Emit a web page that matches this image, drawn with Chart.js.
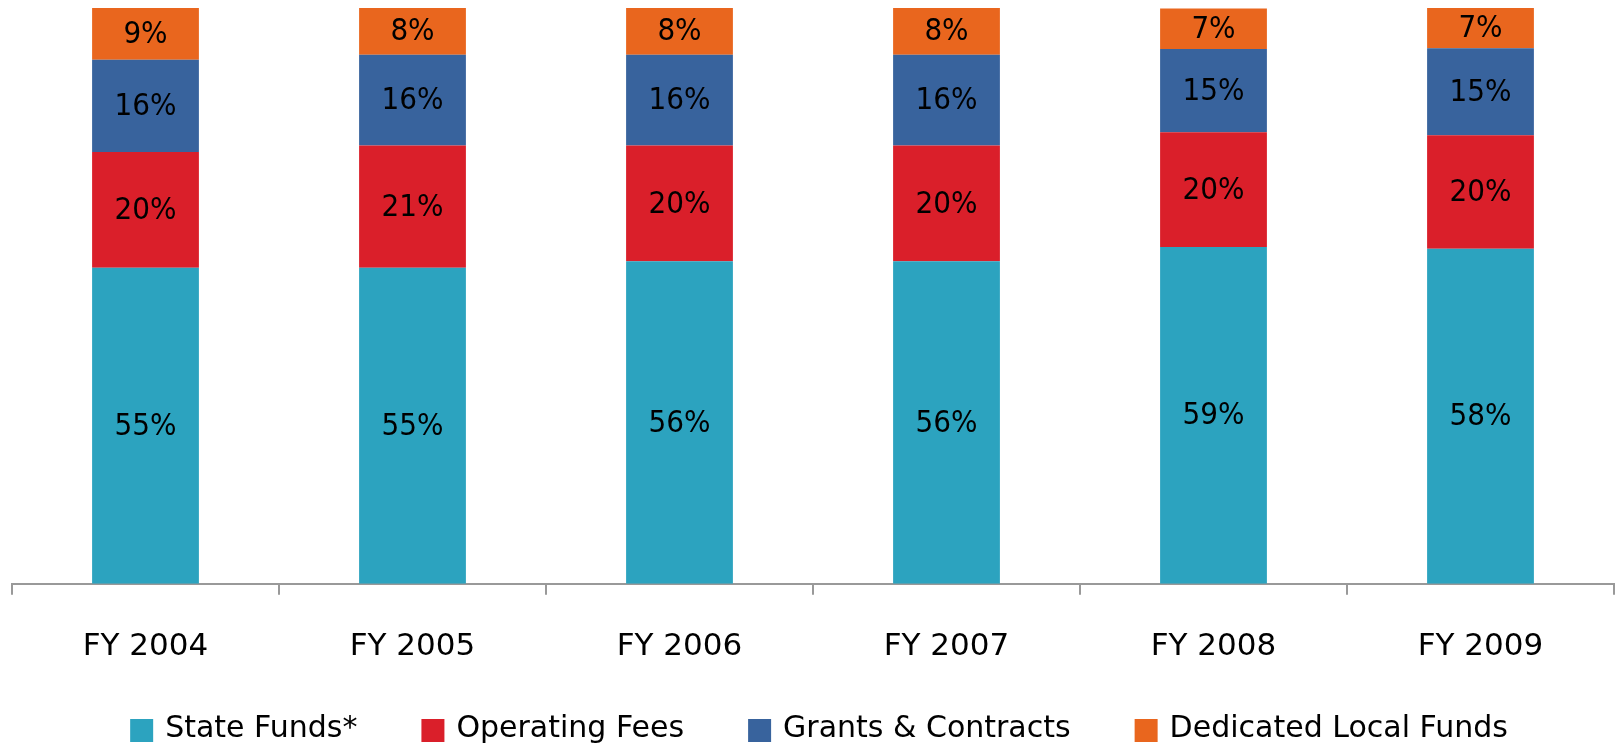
<!DOCTYPE html>
<html>
<head>
<meta charset="utf-8">
<script src="https://cdn.jsdelivr.net/npm/chart.js@4"></script>
<style>
  html, body { margin: 0; padding: 0; background: #fff; }
  #wrap { width: 1617px; height: 744px; }
</style>
</head>
<body>
<div id="wrap"><canvas id="chart"></canvas></div>
<script>
// data (share of total, %)
var years = ['FY 2004', 'FY 2005', 'FY 2006', 'FY 2007', 'FY 2008', 'FY 2009'];
var stateFunds = [54.9, 54.9, 56.0, 56.0, 58.5, 58.2];
var operatingFees = [20.1, 21.2, 20.1, 20.1, 19.9, 19.7];
var grantsContracts = [16.0, 15.8, 15.8, 15.8, 14.5, 15.1];
var localFunds = [9.0, 8.1, 8.1, 8.1, 7.0, 7.0];

var labelFont = '31px "DejaVu Sans Condensed", "DejaVu Sans", sans-serif';
var mainFont = '"DejaVu Sans", sans-serif';

// draws the % value in the middle of each bar piece
var barLabels = {
  id: 'barLabels',
  afterDatasetsDraw: function (chart) {
    var ctx = chart.ctx;
    ctx.save();
    ctx.fillStyle = '#000';
    ctx.font = labelFont;
    ctx.textAlign = 'center';
    ctx.textBaseline = 'middle';
    chart.data.datasets.forEach(function (ds, i) {
      chart.getDatasetMeta(i).data.forEach(function (bar, j) {
        var mid = (bar.y + bar.base) / 2;
        ctx.fillText(Math.round(ds.data[j]) + '%', bar.x, mid + 1);
      });
    });
    ctx.restore();
  }
};

// legend along the bottom, squares + text, wide gaps
var bottomLegend = {
  id: 'bottomLegend',
  afterDraw: function (chart) {
    var ctx = chart.ctx;
    var box = 23, gapText = 12, gapItem = 64;
    ctx.save();
    ctx.font = '30px ' + mainFont;
    var sets = chart.data.datasets;
    var widths = sets.map(function (ds) { return ctx.measureText(ds.label).width; });
    var total = 0;
    widths.forEach(function (w) { total += box + gapText + w; });
    total += gapItem * (sets.length - 1);
    var x = (chart.chartArea.left + chart.chartArea.right) / 2 - total / 2 + 6;
    var y = 719;
    ctx.textBaseline = 'alphabetic';
    sets.forEach(function (ds, i) {
      ctx.fillStyle = ds.backgroundColor;
      ctx.fillRect(x, y, box, box);
      ctx.fillStyle = '#000';
      ctx.fillText(ds.label, x + box + gapText, 737);
      x += box + gapText + widths[i] + gapItem;
    });
    ctx.restore();
  }
};

var ctx = document.getElementById('chart').getContext('2d');
var myChart = new Chart(ctx, {
  type: 'bar',
  data: {
    labels: years,
    datasets: [
      { label: 'State Funds*', data: stateFunds, backgroundColor: '#2ca3bf' },
      { label: 'Operating Fees', data: operatingFees, backgroundColor: '#da1f2a' },
      { label: 'Grants & Contracts', data: grantsContracts, backgroundColor: '#38639d' },
      { label: 'Dedicated Local Funds', data: localFunds, backgroundColor: '#e9661e' }
    ]
  },
  options: {
    responsive: true,
    maintainAspectRatio: false,
    animation: false,
    layout: { padding: { left: 12, right: 3, top: 8, bottom: 44 } },
    datasets: { bar: { barPercentage: 0.4, categoryPercentage: 1.0 } },
    scales: {
      x: {
        stacked: true,
        offset: true,
        border: { color: '#999', width: 2 },
        grid: { offset: true, drawOnChartArea: false, color: '#999', lineWidth: 2, tickLength: 11 },
        ticks: { color: '#000', font: { size: 31, family: mainFont }, padding: 34 }
      },
      y: {
        stacked: true,
        display: false,
        min: 0,
        max: 100
      }
    },
    plugins: {
      tooltip: { enabled: false },
      legend: { display: false }
    }
  },
  plugins: [barLabels, bottomLegend]
});
</script>
</body>
</html>
